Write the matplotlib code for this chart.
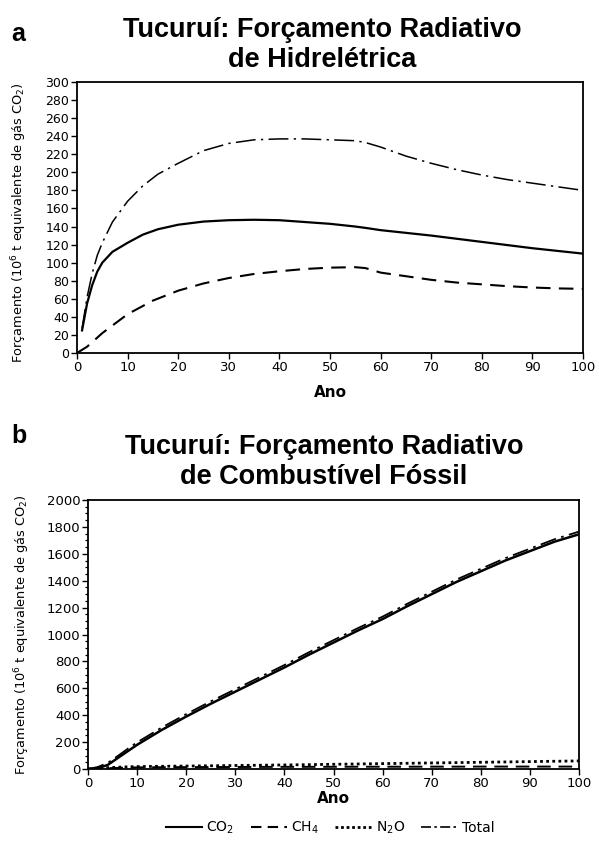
import matplotlib
matplotlib.use("Agg")
import matplotlib.pyplot as plt
from matplotlib.lines import Line2D
from matplotlib.ticker import MultipleLocator
from matplotlib import font_manager as fm

# ---- Panel a: hydroelectric ----
years_a_co2 = [1, 2, 3, 4, 5, 7, 10, 13, 16, 20, 25, 30, 35, 40, 45, 50, 55, 57, 60, 65, 70, 75, 80, 85, 90, 95, 100]
co2_a = [25, 55, 75, 90, 100, 112, 122, 131, 137, 142, 145.5, 147, 147.5, 147, 145, 143, 140, 138.5, 136, 133, 130, 126.5, 123, 119.5, 116, 113, 110]
total_a = [27, 62, 88, 108, 122, 145, 168, 185, 198, 210, 224, 232, 236, 237, 237, 236, 235, 233, 228, 218, 210, 203, 197, 192, 188, 184, 180]
years_a_ch4 = [0, 2, 5, 10, 15, 20, 25, 30, 35, 40, 45, 50, 55, 57, 60, 65, 70, 75, 80, 85, 90, 95, 100]
ch4_a = [0, 7, 22, 43, 58, 69, 77, 83, 87.5, 90.5, 93, 94.5, 95, 94, 89, 85, 81, 78, 76, 74, 72.5, 71.5, 71]

# ---- Panel b: fossil fuel ----
years_b = [0, 2, 4, 6, 8, 10, 15, 20, 25, 30, 35, 40, 45, 50, 55, 60, 65, 70, 75, 80, 85, 90, 95, 100]
co2_b = [0, 5, 30, 80, 130, 180, 290, 390, 485, 575, 665, 755, 850, 940, 1030, 1115, 1210, 1300, 1390, 1470, 1550, 1620, 1690, 1745]
total_b = [0, 15, 45, 95, 148, 198, 308, 408, 503, 593, 683, 773, 868, 958, 1048, 1133, 1228, 1318, 1408, 1488, 1568, 1638, 1708, 1765]
ch4_b = [0, 4, 6, 8, 10, 12, 13, 14, 14.5, 15, 15.5, 16, 16, 16.5, 17, 17, 17, 17.5, 17.5, 18, 18, 18, 18, 18]
n2o_b = [0, 6, 10, 13, 16, 18, 20, 22, 24, 26, 28, 30, 32.5, 35, 37.5, 40, 42.5, 45, 47.5, 50, 52.5, 55, 57.5, 60]

xticks = list(range(0, 101, 10))
yticks_a = list(range(0, 301, 20))
yticks_b = list(range(0, 2001, 200))

title_a = "Tucuruí: Forçamento Radiativo\nde Hidrelétrica"
title_b = "Tucuruí: Forçamento Radiativo\nde Combustível Fóssil"
ylab = "Forçamento (10$^6$ t equivalente de gás CO$_2$)"
xlab = "Ano"
legend_labels = ["CO$_2$", "CH$_4$", "N$_2$O", "Total"]

# find regular (non-narrow) Liberation Sans Bold
bold_fp = None
for f in fm.findSystemFonts():
    if f.endswith("LiberationSans-Bold.ttf"):
        bold_fp = fm.FontProperties(fname=f)
        break
if bold_fp is None:
    bold_fp = fm.FontProperties(family="DejaVu Sans", weight="bold")

W, H = 599, 847
fig = plt.figure(figsize=(W / 100, H / 100), dpi=100)
fig.patch.set_facecolor("white")

def fx(px):
    return px / W

def fy(py):
    return 1 - py / H

ax_a = fig.add_axes([fx(77), fy(353), fx(583 - 77), (353 - 82) / H])
ax_b = fig.add_axes([fx(88), fy(769), fx(579 - 88), (769 - 500) / H])

dashdot = (0, (13, 3.5, 1.5, 3.5))
dashed = (0, (7, 4))

ax_a.plot(years_a_co2, co2_a, color="black", lw=1.6, ls="-")
ax_a.plot(years_a_ch4, ch4_a, color="black", lw=1.5, ls=dashed)
ax_a.plot(years_a_co2, total_a, color="black", lw=1.1, ls=dashdot)

ax_b.plot(years_b, co2_b, color="black", lw=1.8, ls="-")
ax_b.plot(years_b, total_b, color="black", lw=1.3, ls=(0, (9, 3, 1.5, 3)))
ax_b.plot(years_b, ch4_b, color="black", lw=1.4, ls=dashed)
ax_b.plot(years_b, n2o_b, color="black", lw=2.0, ls=(0, (1, 1.2)))

tickfont = dict(family="DejaVu Sans", size=9.5)
for ax, yt, ymax in ((ax_a, yticks_a, 300), (ax_b, yticks_b, 2000)):
    ax.set_xlim(0, 100)
    ax.set_ylim(0, ymax)
    ax.set_xticks(xticks)
    ax.set_yticks(yt)
    ax.set_xticklabels([str(v) for v in xticks], **tickfont)
    ax.set_yticklabels([str(v) for v in yt], **tickfont)
    ax.tick_params(direction="out", length=4, width=1, pad=1.5, color="black")
    for s in ax.spines.values():
        s.set_linewidth(1.3)
    ax.set_xlabel(xlab, fontsize=11, fontweight="bold", family="DejaVu Sans", labelpad=8)
    ax.set_ylabel(ylab, fontsize=9.3, family="DejaVu Sans")

ax_a.tick_params(axis="y", labelsize=9)
ax_b.yaxis.set_minor_locator(MultipleLocator(50))
ax_b.tick_params(which="minor", direction="out", length=2.5, width=0.9)
ax_b.xaxis.labelpad = 1

ax_a.yaxis.set_label_coords(-0.095, 0.48)
ax_b.yaxis.set_label_coords(-0.115, 0.5)

tfont = dict(fontproperties=bold_fp, ha="center", va="top", linespacing=1.2)
t1 = fig.text(fx(322), fy(17), title_a, **tfont)
t2 = fig.text(fx(324), fy(434), title_b, **tfont)
for t in (t1, t2):
    t.set_fontsize(19.5)
la = fig.text(fx(11), fy(22), "a", fontproperties=bold_fp, va="top")
lb = fig.text(fx(11), fy(424), "b", fontproperties=bold_fp, va="top")
for t in (la, lb):
    t.set_fontsize(18)

handles = [
    Line2D([], [], color="black", lw=1.5, ls="-"),
    Line2D([], [], color="black", lw=1.5, ls=(0, (5, 3))),
    Line2D([], [], color="black", lw=2.0, ls=(0, (1, 1))),
    Line2D([], [], color="black", lw=1.2, ls=(0, (6, 2, 1.5, 2))),
]
fig.legend(handles, legend_labels, loc="center", bbox_to_anchor=(fx(330), fy(828)), ncol=4,
           frameon=False, handlelength=2.6, handletextpad=0.3, columnspacing=1.2,
           prop=dict(family="DejaVu Sans", size=10))

fig.savefig("out.png", dpi=100, facecolor="white")
